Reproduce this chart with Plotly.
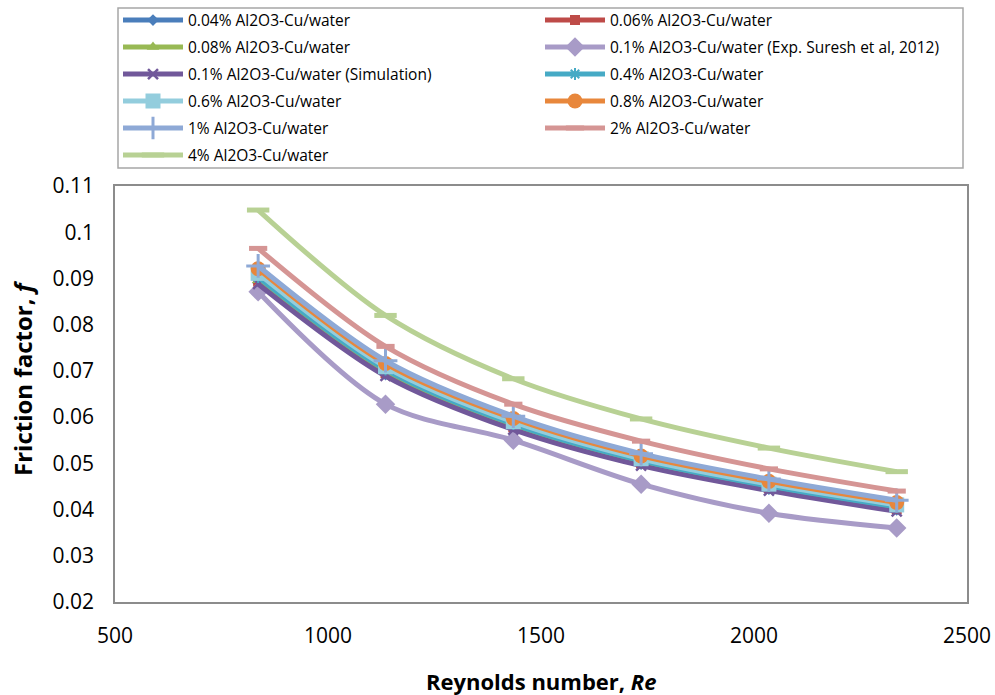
import plotly.graph_objects as go

# Reynolds numbers of the six test points
reynolds = [836, 1135, 1435, 1735, 2035, 2335]

# Friction factor for each nanofluid concentration
f_004 = [0.0890, 0.0692, 0.0576, 0.0498, 0.0444, 0.0399]
f_006 = [0.0893, 0.0695, 0.0578, 0.0500, 0.0446, 0.0401]
f_008 = [0.0896, 0.0697, 0.0580, 0.0502, 0.0447, 0.0402]
f_exp = [0.0871, 0.0628, 0.0550, 0.0455, 0.0392, 0.0360]
f_sim = [0.0888, 0.0689, 0.0573, 0.0495, 0.0441, 0.0396]
f_04 = [0.0903, 0.0703, 0.0585, 0.0506, 0.0451, 0.0406]
f_06 = [0.0911, 0.0709, 0.0590, 0.0510, 0.0455, 0.0410]
f_08 = [0.0921, 0.0716, 0.0597, 0.0516, 0.0461, 0.0415]
f_1 = [0.0927, 0.0722, 0.0602, 0.0521, 0.0466, 0.0420]
f_2 = [0.0965, 0.0753, 0.0628, 0.0548, 0.0488, 0.0440]
f_4 = [0.1048, 0.0820, 0.0683, 0.0596, 0.0533, 0.0482]

series = [
    # name, values, colour, symbol, marker size, marker line width, legend
    ("0.04% Al2O3-Cu/water", f_004, "#4A7EBB", "diamond", 9, 0, "legend"),
    ("0.06% Al2O3-Cu/water", f_006, "#BE4B48", "square", 10, 0, "legend2"),
    ("0.08% Al2O3-Cu/water", f_008, "#98B954", "triangle-up", 11, 0, "legend"),
    ("0.1% Al2O3-Cu/water (Exp. Suresh et al, 2012)", f_exp, "#A89BC7", "diamond", 15, 0, "legend2"),
    ("0.1% Al2O3-Cu/water (Simulation)", f_sim, "#71589A", "x-thin-open", 10, 2.5, "legend"),
    ("0.4% Al2O3-Cu/water", f_04, "#46AAC5", "asterisk-open", 10, 2, "legend2"),
    ("0.6% Al2O3-Cu/water", f_06, "#93CDDD", "square", 15, 0, "legend"),
    ("0.8% Al2O3-Cu/water", f_08, "#E8873C", "circle", 15, 0, "legend2"),
    ("1% Al2O3-Cu/water", f_1, "#8EA9D6", "cross-thin-open", 17, 3, "legend"),
    ("2% Al2O3-Cu/water", f_2, "#D59594", "line-ew-open", 13, 5, "legend2"),
    ("4% Al2O3-Cu/water", f_4, "#B8D194", "line-ew-open", 16, 5, "legend"),
]

fig = go.Figure()
for i, (name, vals, col, sym, size, mlw, leg) in enumerate(series):
    fig.add_trace(go.Scatter(
        x=reynolds, y=vals, name=name, mode="lines+markers",
        line=dict(color=col, width=5, shape="spline", smoothing=0.9),
        marker=dict(symbol=sym, size=size, color=col,
                    line=dict(color=col, width=mlw)),
        legend=leg, legendgroup=f"g{i}",
    ))

font_family = "'Open Sans', Lato, sans-serif"
legend_common = dict(
    orientation="v", xref="container", yref="container",
    yanchor="top", xanchor="left", y=0.995,
    font=dict(family=font_family, size=15.5, color="#000"),
    itemwidth=60, tracegroupgap=3.85, bgcolor="rgba(0,0,0,0)",
    borderwidth=0,
)

# plot area in pixels: x 115..967, y 186..602
PW, PH = 852, 416

fig.update_layout(
    width=995, height=695,
    margin=dict(l=115, r=28, t=186, b=93, autoexpand=False),
    paper_bgcolor="white", plot_bgcolor="white",
    font=dict(family=font_family, color="#000"),
    legend=dict(x=118 / 995, **legend_common),
    legend2=dict(x=540 / 995, **legend_common),
    xaxis=dict(
        range=[500, 2500], dtick=500, tick0=500,
        showgrid=False, zeroline=False, ticks="",
        showline=True, mirror=True, linecolor="#8C8C8C", linewidth=1.5,
        tickfont=dict(size=21), ticklabelstandoff=14,
    ),
    yaxis=dict(
        range=[0.02, 0.11], dtick=0.01, tick0=0.02,
        showgrid=False, zeroline=False, ticks="",
        showline=True, mirror=True, linecolor="#8C8C8C", linewidth=1.5,
        tickfont=dict(size=21), tickformat="~g", ticklabelstandoff=15,
    ),
    annotations=[
        dict(text="<b>Reynolds number, <i>Re</i></b>", xref="paper", yref="paper",
             x=0.5, y=(602 - 681) / PH, xanchor="center", yanchor="middle",
             showarrow=False, font=dict(size=22)),
        dict(text="<b>Friction factor, <i>f</i></b>", xref="paper", yref="paper",
             x=(22 - 115) / PW, y=(602 - 378) / PH, xanchor="center", yanchor="middle",
             textangle=-90, showarrow=False, font=dict(size=24)),
    ],
    shapes=[dict(
        type="rect", xref="paper", yref="paper",
        x0=3 / PW, x1=848 / PW, y0=1 + 18 / PH, y1=1 + 178 / PH,
        line=dict(color="#A6A6A6", width=1.5), fillcolor="rgba(0,0,0,0)",
        layer="below",
    )],
)

fig.write_html("out.html")
